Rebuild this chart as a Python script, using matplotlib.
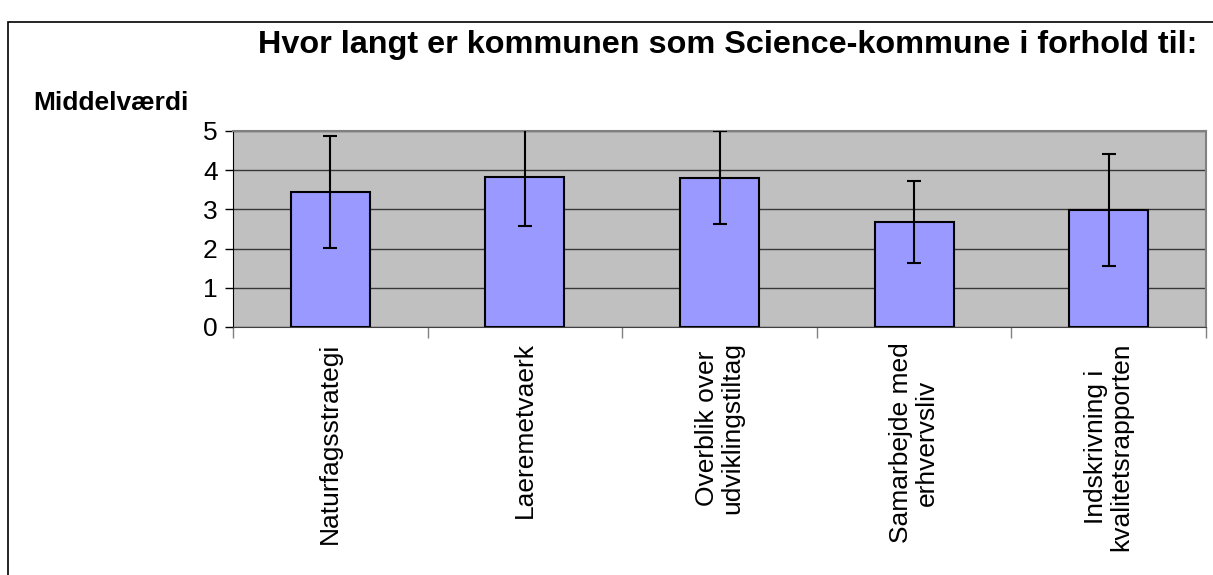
import matplotlib
matplotlib.use("Agg")
import matplotlib.pyplot as plt
import numpy as np
from matplotlib.patches import Rectangle

categories = ["Naturfagsstrategi", "Laeremetvaerk", "Overblik over\nudviklingstiltag",
              "Samarbejde med\nerhvervsliv", "Indskrivning i\nkvalitetsrapporten"]
means = [3.45, 3.82, 3.81, 2.67, 2.99]
errors = [1.43, 1.24, 1.18, 1.05, 1.43]
yticks = [0, 1, 2, 3, 4, 5]

W, H = 1213, 575
fig = plt.figure(figsize=(W / 100, H / 100), dpi=100)
plt.rcParams['font.family'] = ['Liberation Sans', 'DejaVu Sans']

# outer frame
fig.patches.append(Rectangle((8 / W, -0.05), 1.2, (575 - 22) / H + 0.05, transform=fig.transFigure,
                             fill=False, edgecolor='black', linewidth=1.2))

ax = fig.add_axes([233 / W, (H - 327) / H, (1206 - 233) / W, (327 - 131) / H])
ax.set_facecolor('#C0C0C0')
x = np.arange(len(categories))
ax.bar(x, means, width=0.405, color='#9999FF', edgecolor='black', linewidth=1.5, zorder=3)
ax.errorbar(x, means, yerr=errors, fmt='none', ecolor='black', elinewidth=1.5,
            capsize=5, capthick=1.5, zorder=4)
ax.set_xlim(-0.5, len(categories) - 0.5)
ax.set_ylim(0, 5)
ax.set_yticks(yticks)
ax.set_yticklabels([str(v) for v in yticks], fontsize=19)
ax.yaxis.grid(True, color='#383838', linewidth=1)
ax.set_axisbelow(True)
ax.tick_params(axis='y', direction='out', length=6, width=1, color='black', pad=5)

ax.set_xticks(x)
ax.set_xticklabels(categories, rotation=90, fontsize=19, va='top', ha='center',
                   multialignment='center', linespacing=1.1)
ax.set_xticks(np.arange(-0.5, len(categories)), minor=True)
ax.tick_params(axis='x', which='major', length=0, pad=11)
ax.tick_params(axis='x', which='minor', length=8, width=1, color='#808080', direction='out')

for s in ['top', 'right']:
    ax.spines[s].set_color('#808080')
    ax.spines[s].set_linewidth(1.5)
ax.spines['left'].set_color('black')
ax.spines['bottom'].set_color('#404040')

fig.text(258 / W, 1 - 45 / H, "Hvor langt er kommunen som Science-kommune i forhold til:",
         fontsize=23.3, fontweight='bold', ha='left', va='center')
fig.text(33 / W, 1 - 103 / H, "Middelværdi", fontsize=19, fontweight='bold',
         ha='left', va='center')

fig.savefig("out.png", dpi=100)
